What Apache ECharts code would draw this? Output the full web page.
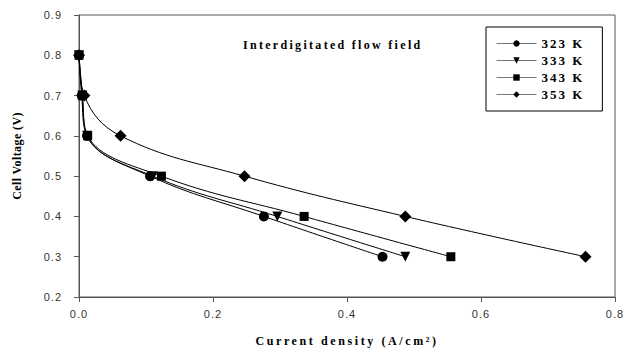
<!DOCTYPE html>
<html lang="en">
<head>
    <meta charset="utf-8">
    <title>ECharts</title>
    <script src="https://cdn.jsdelivr.net/npm/echarts@6/dist/echarts.min.js"></script>
</head>
<body style="margin:0;">
<div id="main" style="width:634px;height:352px;"></div>
<script type="text/javascript">
    // cell voltage levels (V) shared by all runs
    var voltage = [0.8, 0.7, 0.6, 0.5, 0.4, 0.3];
    // current density (A/cm2) per temperature
    var cur323 = [0, 0.004, 0.012, 0.106, 0.276, 0.453];
    var cur333 = [0, 0.005, 0.012, 0.110, 0.296, 0.487];
    var cur343 = [0, 0.005, 0.013, 0.123, 0.336, 0.555];
    var cur353 = [0, 0.008, 0.062, 0.247, 0.487, 0.756];
    var names = ['323 K', '333 K', '343 K', '353 K'];
    var symbols = ['circle', 'path://M0,0 L10,0 L5,9 Z', 'rect', 'diamond'];
    var sizes = [10, 10, 9, 12];

    function pairs(xs) {
        return xs.map(function (x, i) { return [x, voltage[i]]; });
    }
    var curves = [cur323, cur333, cur343, cur353];

    var serif = '"Liberation Serif", "Times New Roman", serif';
    var sans = '"Liberation Sans", Arial, sans-serif';

    var myChart = echarts.init(document.getElementById('main'), null, { renderer: 'svg' });
    myChart.setOption({
        backgroundColor: '#ffffff',
        animation: false,
        title: {
            text: 'Interdigitated flow field',
            left: 238,
            top: 34,
            textStyle: {
                fontFamily: serif,
                fontWeight: 'bold',
                fontSize: 12,
                color: '#000'
            }
        },
        legend: {
            data: names,
            orient: 'vertical',
            left: 486,
            top: 27,
            padding: [10, 28, 10, 10],
            itemGap: 4,
            itemWidth: 40,
            itemHeight: 8,
            borderColor: '#000',
            borderWidth: 1,
            lineStyle: { color: '#777', width: 1 },
            textStyle: {
                fontFamily: serif,
                fontWeight: 'bold',
                fontSize: 13,
                color: '#000'
            }
        },
        grid: {
            left: 79,
            right: 19,
            top: 15,
            bottom: 53,
            show: true,
            borderColor: '#555',
            borderWidth: 1
        },
        xAxis: {
            type: 'value',
            min: 0,
            max: 0.8,
            interval: 0.2,
            name: 'Current density (A/cm²)',
            nameLocation: 'middle',
            nameGap: 38,
            nameTextStyle: {
                fontFamily: serif,
                fontWeight: 'bold',
                fontSize: 12,
                color: '#000'
            },
            axisLine: { lineStyle: { color: '#555' } },
            axisTick: { lineStyle: { color: '#555' }, length: 5 },
            splitLine: { show: false },
            axisLabel: {
                fontFamily: sans,
                fontSize: 11,
                color: '#333',
                margin: 11,
                formatter: function (v) { return v.toFixed(1); }
            }
        },
        yAxis: {
            type: 'value',
            min: 0.2,
            max: 0.9,
            interval: 0.1,
            name: 'Cell Voltage (V)',
            nameLocation: 'middle',
            nameGap: 56,
            nameTextStyle: {
                fontFamily: serif,
                fontWeight: 'bold',
                fontSize: 12,
                color: '#000'
            },
            axisLine: { lineStyle: { color: '#555' } },
            axisTick: { lineStyle: { color: '#555' }, length: 5 },
            splitLine: { show: false },
            axisLabel: {
                fontFamily: sans,
                fontSize: 11,
                color: '#333',
                margin: 17,
                formatter: function (v) { return v.toFixed(1); }
            }
        },
        series: names.map(function (n, i) {
            return {
                name: n,
                type: 'line',
                data: pairs(curves[i]),
                smooth: 0.4,
                symbol: symbols[i],
                symbolSize: sizes[i],
                itemStyle: { color: '#000' },
                lineStyle: { color: '#000', width: 1 }
            };
        })
    });

    // the printed figure uses wide letter spacing on its serif labels
    var spacing = {
        'Interdigitated flow field': '2.3px',
        'Current density (A/cm²)': '2.6px',
        'Cell Voltage (V)': '0.4px'
    };
    document.querySelectorAll('#main svg text').forEach(function (t) {
        var s = t.textContent;
        if (spacing[s]) {
            t.style.letterSpacing = spacing[s];
        } else if (names.indexOf(s) >= 0) {
            t.style.letterSpacing = '2px';
        } else if (/^\d\.\d$/.test(s)) {
            t.style.letterSpacing = '1px';
        }
    });
</script>
</body>
</html>
